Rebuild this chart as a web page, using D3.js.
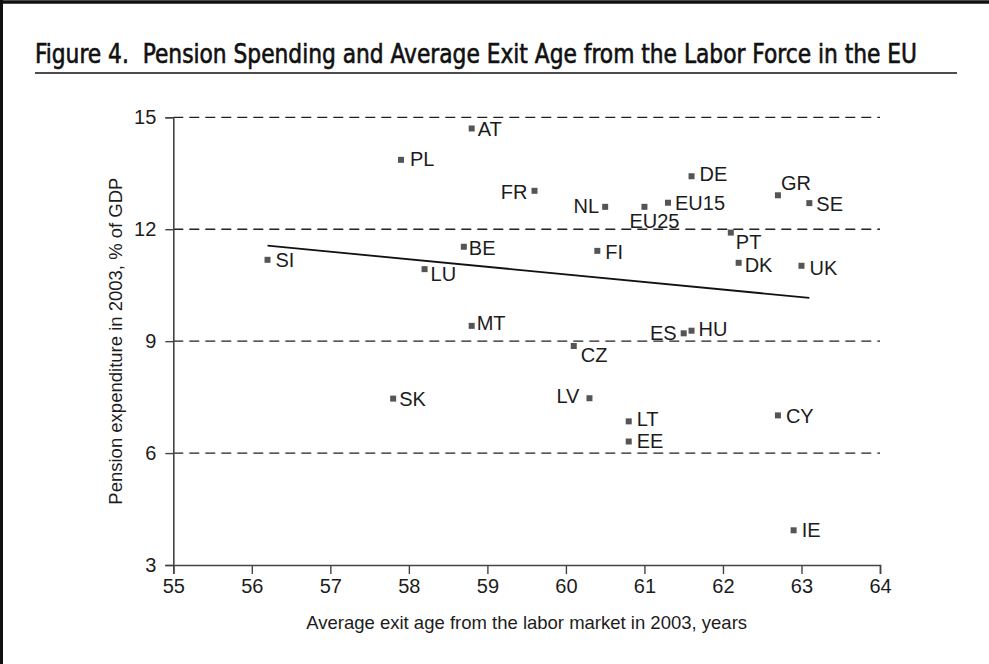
<!DOCTYPE html>
<html>
<head>
<meta charset="utf-8">
<script src="https://cdn.jsdelivr.net/npm/d3@7"></script>
<style>
  body { margin: 0; background: #fff; }
  svg { display: block; }
</style>
</head>
<body>
<svg id="chart" width="989" height="664"></svg>
<script>
// country codes and values
var countries = ["AT", "PL", "SI", "BE", "LU", "MT", "FR", "NL", "EU25", "EU15", "DE", "GR", "SE",
                 "PT", "FI", "DK", "UK", "ES", "HU", "CZ", "LV", "LT", "EE", "CY", "IE", "SK"]
var exitAge = [58.8, 57.9, 56.2, 58.7, 58.2, 58.8, 59.6, 60.5, 61.0, 61.3, 61.6, 62.7, 63.1,
               62.1, 60.4, 62.2, 63.0, 61.5, 61.6, 60.1, 60.3, 60.8, 60.8, 62.7, 62.9, 57.8]
var pension = [14.7, 13.86, 11.18, 11.53, 10.93, 9.41, 13.03, 12.6, 12.6, 12.71, 13.42, 12.91, 12.7,
               11.91, 11.42, 11.1, 11.02, 9.21, 9.28, 8.87, 7.47, 6.85, 6.31, 7.01, 3.93, 7.46]

// trend line end points
var trendX = [56.2, 63.1]
var trendY = [11.56, 10.16]

var xTicks = [55, 56, 57, 58, 59, 60, 61, 62, 63, 64]
var yTicks = [3, 6, 9, 12, 15]
var gridValues = [6, 9, 12, 15]

var title = "Figure 4.  Pension Spending and Average Exit Age from the Labor Force in the EU"
var xTitle = "Average exit age from the labor market in 2003, years"
var yTitle = "Pension expenditure in 2003, % of GDP"

// where each label sits relative to its marker (anchor, dx, dy)
var labelPos = {
  AT: ["start", 6, 8], PL: ["start", 9, 6], SI: ["start", 8, 7], BE: ["start", 5, 8],
  LU: ["start", 6, 12], MT: ["start", 5, 4], FR: ["end", -7, 8], NL: ["end", -6, 6],
  EU25: ["start", -15, 21], EU15: ["start", 7, 7], DE: ["start", 8, 5], GR: ["start", 3, -5],
  SE: ["start", 7, 8], PT: ["start", 5, 16], FI: ["start", 8, 8], DK: ["start", 6, 9],
  UK: ["start", 8, 9], ES: ["end", -7, 7], HU: ["start", 7, 5], CZ: ["start", 7, 16],
  LV: ["end", -10, 5], LT: ["start", 8, 5], EE: ["start", 8, 6], CY: ["start", 8, 8],
  IE: ["start", 8, 7], SK: ["start", 6, 7]
}

var points = countries.map(function(c, i) {
  return {code: c, x: exitAge[i], y: pension[i]}
})

var svg = d3.select('#chart')
var font = "'Liberation Sans', Arial, sans-serif"
var ink = '#1c1c1c'

// frame: top and left rules only
svg.append('line')
    .attr('x1', 0).attr('y1', 2).attr('x2', 989).attr('y2', 2)
    .style('stroke', '#111').style('stroke-width', 3.5)
svg.append('line')
    .attr('x1', 1.5).attr('y1', 0).attr('x2', 1.5).attr('y2', 664)
    .style('stroke', '#111').style('stroke-width', 3)

// title and rule under it
svg.append('text')
    .attr('x', 35)
    .attr('y', 63)
    .attr('textLength', 882)
    .attr('lengthAdjust', 'spacingAndGlyphs')
    .style('white-space', 'pre')
    .style('font-family', "'Liberation Sans Narrow', 'DejaVu Sans Condensed', sans-serif")
    .style('font-size', '26px')
    .style('fill', '#111')
    .style('stroke', '#111')
    .style('stroke-width', 0.6)
    .text(title)
svg.append('line')
    .attr('x1', 35).attr('y1', 73).attr('x2', 957).attr('y2', 73)
    .style('stroke', '#111').style('stroke-width', 1.5)

var x = d3.scaleLinear().domain([55, 64]).range([173.3, 880])
var y = d3.scaleLinear().domain([3, 15]).range([565, 117.3])

// dashed grid
svg.append('g').selectAll('line')
    .data(gridValues)
    .join('line')
    .attr('x1', x(55)).attr('x2', x(64))
    .attr('y1', function(d) { return y(d) })
    .attr('y2', function(d) { return y(d) })
    .style('stroke', '#222')
    .style('stroke-width', 1.3)
    .style('stroke-dasharray', '10,6')

var xAxis = svg.append('g')
    .attr('transform', 'translate(0,' + y(3) + ')')
    .call(d3.axisBottom(x).tickValues(xTicks).tickSize(9).tickPadding(5).tickFormat(d3.format('d')))
var yAxis = svg.append('g')
    .attr('transform', 'translate(' + x(55) + ',0)')
    .call(d3.axisLeft(y).tickValues(yTicks).tickSize(8).tickPadding(9).tickFormat(d3.format('d')))

;[xAxis, yAxis].forEach(function(a) {
  a.select('.domain').style('stroke', '#444').style('stroke-width', 1.6)
  a.selectAll('.tick line').style('stroke', '#444').style('stroke-width', 1.4)
  a.selectAll('.tick text')
      .style('font-family', font)
      .style('font-size', '20px')
      .style('fill', ink)
})

// axis titles
svg.append('text')
    .attr('x', (x(55) + x(64)) / 2)
    .attr('y', 629)
    .attr('text-anchor', 'middle')
    .style('font-family', font)
    .style('font-size', '18.5px')
    .style('fill', ink)
    .text(xTitle)
svg.append('text')
    .attr('transform', 'translate(122,' + (y(3) + y(15)) / 2 + ') rotate(-90)')
    .attr('text-anchor', 'middle')
    .style('font-family', font)
    .style('font-size', '18.5px')
    .style('fill', ink)
    .text(yTitle)

// trend line
svg.append('line')
    .attr('x1', x(trendX[0])).attr('y1', y(trendY[0]))
    .attr('x2', x(trendX[1])).attr('y2', y(trendY[1]))
    .style('stroke', '#111')
    .style('stroke-width', 1.8)

// markers
svg.append('g').selectAll('rect')
    .data(points)
    .join('rect')
    .attr('x', function(d) { return x(d.x) - 3 })
    .attr('y', function(d) { return y(d.y) - 3 })
    .attr('width', 6)
    .attr('height', 6)
    .style('fill', '#555')

// labels
svg.append('g').selectAll('text')
    .data(points)
    .join('text')
    .attr('x', function(d) { return x(d.x) + labelPos[d.code][1] })
    .attr('y', function(d) { return y(d.y) + labelPos[d.code][2] })
    .attr('text-anchor', function(d) { return labelPos[d.code][0] })
    .style('font-family', font)
    .style('font-size', '20px')
    .style('fill', ink)
    .text(function(d) { return d.code })
</script>
</body>
</html>
